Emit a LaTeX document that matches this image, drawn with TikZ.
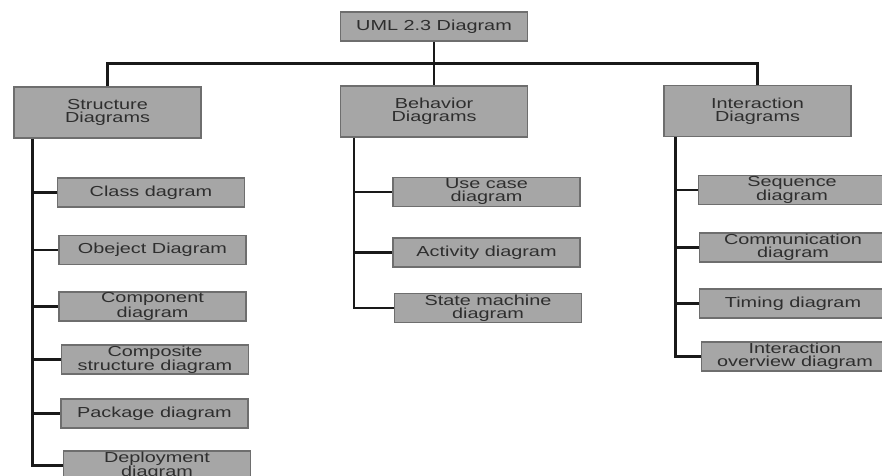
\documentclass[tikz,border=0pt]{standalone}
\usepackage{fontspec}
\setmainfont{Liberation Sans}[FakeStretch=1.37]
\usetikzlibrary{calc}

\definecolor{boxgray}{HTML}{A6A6A6}
\definecolor{edgegray}{HTML}{6E6E6E}
\definecolor{inkgray}{HTML}{2E2E2E}

\begin{document}
\begin{tikzpicture}[x=1pt, y=-1pt,
        box/.style={rectangle, fill=boxgray, draw=edgegray, line width=1.2pt, text=inkgray, align=center, inner sep=0pt, minimum width=187pt, font=\fontsize{14.5}{13}\selectfont},
        root/.style={box, minimum height=29pt},
        group/.style={box, minimum height=51pt},
        leaf/.style={box, minimum height=29pt},
        trunk/.style={line width=2.6pt, draw=black!90},
        branch/.style={line width=2.2pt, draw=black!90},
        ]
    \useasboundingbox (0, 0) rectangle (882, 475);

	\node (UML) at (434, 26.5) [root] {UML 2.3 Diagram};

	\node (S) at (107.5, 112.5) [group] {Structure\\Diagrams};
	\node (B) at (434, 111.5) [group] {Behavior\\Diagrams};
	\node (I) at (757.5, 111) [group] {Interaction\\Diagrams};

    % structure diagrams
	\node (S1) at (151, 192.5) [leaf] {Class dagram};
	\node (S2) at (152.5, 250) [leaf] {Obeject Diagram};
	\node (S3) at (152.5, 306.5) [leaf] {Component\\diagram};
	\node (S4) at (155, 359.5) [leaf] {Composite\\structure diagram};
	\node (S5) at (154.5, 413.5) [leaf] {Package diagram};
	\node (S6) at (157, 465.5) [leaf] {Deployment\\diagram};

    % behavior diagrams
	\node (B1) at (486.5, 192) [leaf] {Use case\\diagram};
	\node (B2) at (486.5, 252.5) [leaf] {Activity diagram};
	\node (B3) at (488, 308) [leaf] {State machine\\diagram};

    % interaction diagrams
	\node (I1) at (792, 190) [leaf] {Sequence\\diagram};
	\node (I2) at (793, 247.5) [leaf] {Communication\\diagram};
	\node (I3) at (793, 303.5) [leaf] {Timing diagram};
	\node (I4) at (795, 356.5) [leaf] {Interaction\\overview diagram};

    \coordinate (bus) at ($(UML.south) + (0, 22)$);
    \draw [trunk] (UML.south) -- (bus);
    \draw [trunk] (S.north) |- (bus) -| (I.north);
    \draw [trunk] (bus) -- (B.north);

    \coordinate (St) at ($(S.south west) + (19, 0)$);
    \coordinate (Bt) at ($(B.south west) + (14, 0)$);
    \coordinate (It) at ($(I.south west) + (12, 0)$);

    \draw [trunk] (St) |- (S6.west);
    \foreach \n in {S1, S2, S3, S4, S5}
        \draw [branch] (St |- \n.west) -- (\n.west);

    \draw [trunk] (Bt) |- (B3.west);
    \foreach \n in {B1, B2}
        \draw [branch] (Bt |- \n.west) -- (\n.west);

    \draw [trunk] (It) |- (I4.west);
    \foreach \n in {I1, I2, I3}
        \draw [branch] (It |- \n.west) -- (\n.west);
\end{tikzpicture}
\end{document}
